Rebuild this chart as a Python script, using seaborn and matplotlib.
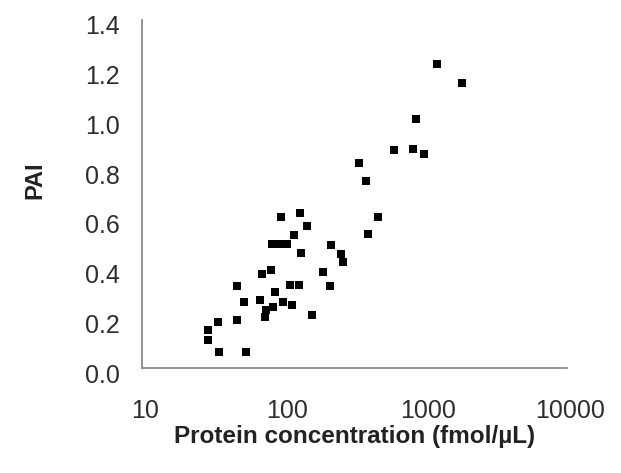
import matplotlib
matplotlib.use("Agg")
import matplotlib.pyplot as plt
import matplotlib.ticker as mticker
import matplotlib.transforms as mtransforms
import seaborn as sns
import pandas as pd

# Protein concentration (fmol/uL) and PAI for each protein
concentration = [
    1202, 1803, 859, 604, 822, 977, 342, 381, 460, 396,
    95.7, 130, 145, 119, 82.7, 93.4, 105.5, 132, 215, 254,
    261, 188, 212, 70, 81, 111, 128, 86.8, 68, 75,
    74.4, 84.5, 99.4, 114, 158, 52.7, 46.6, 34.5, 47.1, 29.1,
    29.1, 34.9, 54,
]
pai = [
    1.222, 1.148, 1.003, 0.877, 0.880, 0.861, 0.826, 0.752, 0.609, 0.538,
    0.609, 0.625, 0.571, 0.535, 0.498, 0.498, 0.498, 0.464, 0.495, 0.459,
    0.428, 0.386, 0.331, 0.378, 0.396, 0.332, 0.332, 0.307, 0.274, 0.233,
    0.206, 0.247, 0.267, 0.253, 0.215, 0.267, 0.330, 0.186, 0.193, 0.153,
    0.113, 0.066, 0.066,
]

x_ticks = [10, 100, 1000, 10000]
x_tick_labels = ["10", "100", "1000", "10000"]
y_ticks = [0.0, 0.2, 0.4, 0.6, 0.8, 1.0, 1.2, 1.4]
y_tick_labels = ["0.0", "0.2", "0.4", "0.6", "0.8", "1.0", "1.2", "1.4"]

df = pd.DataFrame({"concentration": concentration, "pai": pai})

sns.set_style("white")
plt.rcParams["font.family"] = ["Liberation Sans", "DejaVu Sans"]

fig = plt.figure(figsize=(6.21, 4.73), dpi=100)
ax = fig.add_axes([142 / 621, 105 / 473, 425 / 621, 348 / 473])

sns.scatterplot(data=df, x="concentration", y="pai", marker="s", s=30,
                color="black", linewidth=0, ax=ax)

ax.set_xscale("log")
ax.set_xlim(10, 10000)
ax.set_ylim(0, 1.4)
ax.xaxis.set_major_locator(mticker.FixedLocator(x_ticks))
ax.xaxis.set_major_formatter(mticker.FixedFormatter(x_tick_labels))
ax.xaxis.set_minor_locator(mticker.NullLocator())
ax.yaxis.set_major_locator(mticker.FixedLocator(y_ticks))
ax.yaxis.set_major_formatter(mticker.FixedFormatter(y_tick_labels))

for side in ("top", "right"):
    ax.spines[side].set_visible(False)
for side in ("left", "bottom"):
    ax.spines[side].set_color("#8a8a8a")
    ax.spines[side].set_linewidth(1.3)

ax.tick_params(axis="both", direction="in", length=7, width=1.0,
               color="#8a8a8a", labelsize=18, labelcolor="#2e2e2e")
ax.tick_params(axis="x", pad=22)
ax.tick_params(axis="y", pad=16)

# small nudges of the tick labels
y_shift = mtransforms.ScaledTranslation(0, -0.05, fig.dpi_scale_trans)
x_shift = mtransforms.ScaledTranslation(0.03, 0, fig.dpi_scale_trans)
for lbl in ax.get_yticklabels():
    lbl.set_transform(lbl.get_transform() + y_shift)
for lbl in ax.get_xticklabels():
    lbl.set_transform(lbl.get_transform() + x_shift)

ax.set_xlabel("Protein concentration (fmol/\u00b5L)", fontsize=17.5,
              fontweight="bold", color="#222222", labelpad=2)
ax.set_ylabel("PAI", fontsize=17, fontweight="bold", color="#222222")
ax.yaxis.set_label_coords(-0.225, 0.54)

fig.savefig("out.png", dpi=100)
